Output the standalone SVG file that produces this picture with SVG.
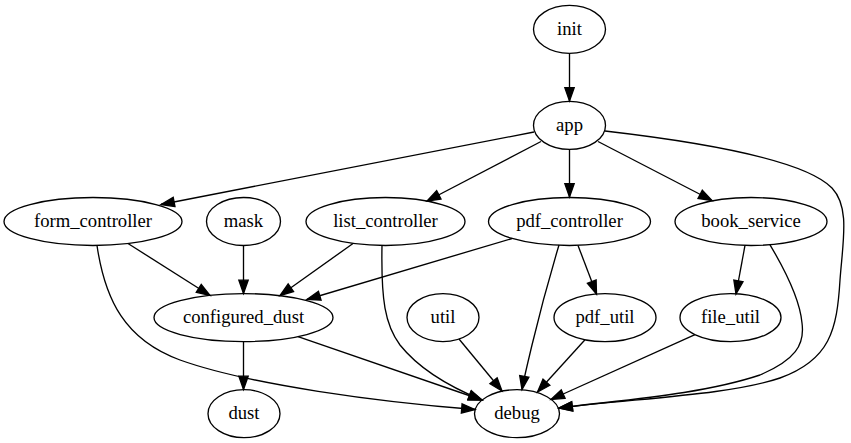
<svg xmlns="http://www.w3.org/2000/svg" width="851" height="443" viewBox="0 0 851 443">
<style>
.node ellipse{fill:none;stroke:#000;stroke-width:1.33}
.node text{font-family:'Liberation Serif','DejaVu Serif',serif;font-size:18.67px;text-anchor:middle;fill:#000}
.edges path{fill:none;stroke:#000;stroke-width:1.33;marker-end:url(#arr)}
</style>
<defs>
<marker id="arr" markerUnits="userSpaceOnUse" viewBox="0 0 13.33 9.33" markerWidth="13.33" markerHeight="9.33" refX="13.33" refY="4.67" orient="auto" overflow="visible">
<path d="M0,0 L13.33,4.67 L0,9.33 z" fill="#000" stroke="#000" stroke-width="1.33"/>
</marker>
</defs>
<rect width="851" height="443" fill="#fff"/>
<g class="edges">
<path d="M569.5,53.3 L569.5,101"/>
<path d="M534,132 L161,204.5"/>
<path d="M541,141.5 L427,201"/>
<path d="M569.5,149.4 L569.5,197"/>
<path d="M598,141.5 L712,200.5"/>
<path d="M605,131 C700,142 805,160 832,188 C850,207 843,240 840,280 C837,330 830,360 780,378 C730,395 640,398 559,408"/>
<path d="M128,243.5 L210,295.5"/>
<path d="M97,245.5 C105,300 125,340 180,360 C250,385 380,402 475,409.5"/>
<path d="M243.5,245.5 L243.5,293.5"/>
<path d="M353,243.5 L280,295.5"/>
<path d="M382,245.5 C381,300 385,325 400,345 C420,370 450,387 482,400"/>
<path d="M512,238.5 L307,299.5"/>
<path d="M559,245 C550,275 538,320 532,345 C528,362 524,378 522,389.5"/>
<path d="M578,245.4 L596.5,294"/>
<path d="M745,245.4 L736,294"/>
<path d="M770,244.8 C785,270 800,300 802,323 C805,345 795,360 760,375 C700,395 620,400 559,408"/>
<path d="M298,336.6 L482,400"/>
<path d="M243.5,341.6 L243.5,389.5"/>
<path d="M459,339 L502,391"/>
<path d="M585,339.7 L537.5,392"/>
<path d="M695,334.7 L551,399.5"/>
</g>
<g id="init" class="node"><ellipse cx="569.5" cy="29.3" rx="36" ry="24"/><text x="569.5" y="35" font-family="Liberation Serif, serif">init</text></g>
<g id="app" class="node"><ellipse cx="569.5" cy="125.4" rx="36" ry="24"/><text x="569.5" y="131" font-family="Liberation Serif, serif">app</text></g>
<g id="form_controller" class="node"><ellipse cx="93" cy="221.5" rx="89" ry="24"/><text x="93" y="227" font-family="Liberation Serif, serif">form_controller</text></g>
<g id="mask" class="node"><ellipse cx="243.5" cy="221.5" rx="37" ry="24"/><text x="243.5" y="227" font-family="Liberation Serif, serif">mask</text></g>
<g id="list_controller" class="node"><ellipse cx="385.5" cy="221.5" rx="79.5" ry="24"/><text x="385.5" y="227" font-family="Liberation Serif, serif">list_controller</text></g>
<g id="pdf_controller" class="node"><ellipse cx="569.5" cy="221.5" rx="81" ry="24"/><text x="569.5" y="227" font-family="Liberation Serif, serif">pdf_controller</text></g>
<g id="book_service" class="node"><ellipse cx="751" cy="221.5" rx="76" ry="24"/><text x="751" y="227" font-family="Liberation Serif, serif">book_service</text></g>
<g id="configured_dust" class="node"><ellipse cx="243.5" cy="317.6" rx="89.5" ry="24"/><text x="243.5" y="323" font-family="Liberation Serif, serif">configured_dust</text></g>
<g id="util" class="node"><ellipse cx="443" cy="317.6" rx="36" ry="24"/><text x="443" y="323" font-family="Liberation Serif, serif">util</text></g>
<g id="pdf_util" class="node"><ellipse cx="605" cy="317.6" rx="51" ry="24"/><text x="605" y="323" font-family="Liberation Serif, serif">pdf_util</text></g>
<g id="file_util" class="node"><ellipse cx="730.5" cy="317.6" rx="50.5" ry="24"/><text x="730.5" y="323" font-family="Liberation Serif, serif">file_util</text></g>
<g id="dust" class="node"><ellipse cx="244" cy="413.7" rx="36" ry="24"/><text x="244" y="419" font-family="Liberation Serif, serif">dust</text></g>
<g id="debug" class="node"><ellipse cx="517" cy="413.7" rx="42.5" ry="24"/><text x="517" y="419" font-family="Liberation Serif, serif">debug</text></g>
</svg>
